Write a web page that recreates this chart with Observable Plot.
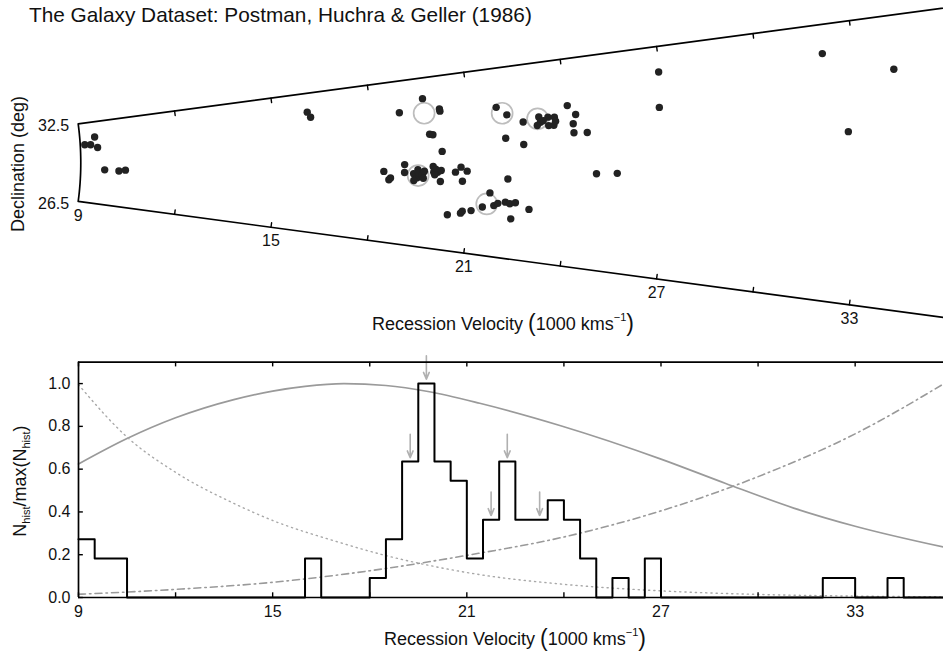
<!DOCTYPE html>
<html><head><meta charset="utf-8">
<script src="https://cdn.jsdelivr.net/npm/d3@7"></script>
<script src="https://cdn.jsdelivr.net/npm/@observablehq/plot@0.6"></script>
<style>
body{margin:0;background:#fff;font-family:"Liberation Sans",Arial,sans-serif;color:#111;}
#wrap{position:relative;width:943px;height:651px;overflow:hidden;background:#fff;}
#topPanel,#bottomPanel{position:absolute;left:0;}
#topPanel{top:0;} #bottomPanel{top:340px;}
.lab{position:absolute;white-space:nowrap;font-size:18px;line-height:1;transform:translate(-50%,-50%);}
.rot{transform:translate(-50%,-50%) rotate(-90deg);}
.p{font-size:23px;position:relative;top:1px;}
sup{font-size:11px;vertical-align:9px;line-height:0;}
sub{font-size:11px;vertical-align:-4px;line-height:0;}
#title{position:absolute;left:29px;top:3px;font-size:20.8px;white-space:nowrap;}
</style></head><body>
<div id="wrap">
<div id="topPanel"></div><div id="bottomPanel"></div>
<div id="title">The Galaxy Dataset: Postman, Huchra &amp; Geller (1986)</div>
<div class="lab" style="left:503px;top:322px">Recession Velocity <span class="p">(</span>1000 kms<sup>−1</sup><span class="p">)</span></div>
<div class="lab" style="left:515px;top:637px">Recession Velocity <span class="p">(</span>1000 kms<sup>−1</sup><span class="p">)</span></div>
<div class="lab rot" style="left:18px;top:164px">Declination (deg)</div>
<div class="lab rot" style="left:20px;top:481px">N<sub>hist</sub>/max(N<sub>hist</sub>)</div>
</div>
<script>
// ---- top panel: galaxies (velocity in 1000 km/s, declination in deg)
const velocity = [9.14,9.32,9.46,9.53,9.74,10.18,10.38,16.06,16.15,18.89,19.64,20.13,20.14,19.78,19.88,20.15,18.35,18.51,18.56,18.99,18.99,19.40,19.27,19.48,19.38,19.28,19.42,19.87,19.89,20.01,20.12,20.10,20.56,20.73,20.92,20.78,20.37,20.77,20.82,21.09,21.43,21.78,21.90,22.13,22.27,22.44,22.87,22.33,21.64,22.18,21.88,22.19,22.68,23.17,23.21,23.11,23.45,23.65,23.46,23.62,24.07,24.31,24.22,24.23,24.64,22.12,22.67,24.91,25.55,26.97,26.90,32.05,34.20,32.69,19.55,19.53,19.60,19.57,19.95,19.92,23.30,23.68];
const declination = [30.86,30.84,31.39,30.61,28.99,28.93,29.00,31.69,31.46,31.34,31.77,31.36,31.28,30.50,30.48,29.89,29.17,28.86,28.93,29.43,29.14,29.25,29.10,29.08,28.96,28.86,29.15,29.37,29.17,29.17,29.23,28.85,29.18,29.35,29.22,28.88,27.72,27.81,27.88,27.92,28.06,28.13,28.21,28.26,28.22,28.26,28.08,27.75,28.53,28.99,31.26,31.00,30.75,30.87,30.71,30.62,30.85,30.84,30.60,30.60,31.15,30.88,30.62,30.36,30.35,30.27,30.06,29.19,29.21,31.84,30.93,31.87,31.40,30.16,29.12,29.02,29.20,28.95,29.27,29.08,30.75,30.72];
const ringVelocity = [19.65,19.41,22.05,23.13,21.56];
const ringDeclination = [31.25,29.04,31.06,30.82,28.17];
const wedgeTicks = [12,15,18,21,24,27,30,33,36];
const wedgeLabels = [9,15,21,27,33];
const decLabels = [32.5,26.5];

// ---- bottom panel
const binStart = d3.range(9, 36, 0.5);
const binCount = [3,2,2,0,0,0,0,0,0,0,0,0,0,0,2,0,0,0,1,3,7,11,7,6,2,4,7,4,4,5,4,2,0,1,0,2,0,0,0,0,0,0,0,0,0,0,1,1,0,0,1,0,0,0];
const solidV = [9,10.5,12,13.8,15,16,17.2,18.5,19.8,21.4,23.9,27,29,31.1,33,35.75];
const solidY = [0.624,0.743,0.840,0.925,0.965,0.987,1.0,0.991,0.963,0.908,0.803,0.647,0.533,0.418,0.333,0.235];
const dottedV = [9,10.5,12,13.8,15,16.9,18.45,20,21.4,23.9,27,30.1,33,35.75];
const dottedY = [0.995,0.75,0.585,0.44,0.36,0.265,0.198,0.145,0.107,0.063,0.031,0.014,0.0065,0.003];
const dashV = [9,12,15,18,21,24,27,30,33,35.75];
const dashY = [0.015,0.038,0.071,0.125,0.197,0.283,0.405,0.565,0.765,1.0];
const arrowV = [19.25,19.75,21.75,22.25,23.25];
const arrowTip = [0.653,1.02,0.383,0.653,0.383];
const xTicks = [9,12,15,18,21,24,27,30,33,36];
const xLabels = [9,15,21,27,33];
const yTicks = [0,0.2,0.4,0.6,0.8,1.0];

const font = {fontFamily:"'Liberation Sans', Arial, sans-serif", fontSize:"16px", color:"#111", background:"transparent", overflow:"visible"};

// wedge projection: velocity -> radius, declination -> angle
const K = 32.42, AX = -211.5, AY = 162.2, DEC0 = 29.5, ANG = 2.543 * Math.PI / 180;
const wedge = d3.geoTransform({
  point(v, dec) {
    const r = K * v, t = (dec - DEC0) * ANG;
    this.stream.point(AX + r * Math.cos(t), AY - r * Math.sin(t));
  }
});
const HALF = 3 * 2.543;
const tickShape = {draw(ctx, l) { ctx.moveTo(0, 0); ctx.lineTo(0, -l); }};

const galaxies = velocity.map((v, i) => ({v, dec: declination[i]}));
const rings = ringVelocity.map((v, i) => ({v, dec: ringDeclination[i]}));
const wedgeFrame = {type: "MultiLineString", coordinates: [
  [[9, 32.5], [37, 32.5]],
  [[9, 26.5], [37, 26.5]],
  d3.range(26.5, 32.5001, 0.25).map(d => [9, d])
]};

const topPlot = Plot.plot({
  width: 943, height: 340, margin: 0,
  projection: wedge,
  style: font,
  marks: [
    Plot.geo(wedgeFrame, {stroke: "#000", strokeWidth: 1.7, fill: "none"}),
    Plot.vector(wedgeTicks, {x: d => d, y: () => 32.5, length: 4.5, rotate: 180 - HALF, anchor: "start", shape: tickShape, stroke: "#000", strokeWidth: 1.4}),
    Plot.vector(wedgeTicks, {x: d => d, y: () => 26.5, length: 4.5, rotate: HALF, anchor: "start", shape: tickShape, stroke: "#000", strokeWidth: 1.4}),
    Plot.dot(rings, {x: "v", y: "dec", r: 10.5, stroke: "#bdbdbd", strokeWidth: 1.7, fill: "none"}),
    Plot.dot(galaxies, {x: "v", y: "dec", r: 3.7, fill: "#222", stroke: "none"}),
    Plot.text(wedgeLabels, {x: d => d, y: () => 26.5, text: d => String(d), dy: 14, fontSize: 16, fill: "#111"}),
    Plot.text(decLabels, {x: () => 9, y: d => d, text: d => d.toFixed(1), textAnchor: "end", dx: -9, dy: 2, fontSize: 16, fill: "#111"})
  ]
});
document.getElementById("topPanel").append(topPlot);

// bottom panel
const maxCount = d3.max(binCount);
const hist = binStart.map((v, i) => ({v, h: binCount[i] / maxCount})).concat([{v: 36, h: 0}]);
const solid = solidV.map((v, i) => ({v, y: solidY[i]}));
const dotted = dottedV.map((v, i) => ({v, y: dottedY[i]}));
const dash = dashV.map((v, i) => ({v, y: dashY[i]}));
const arrows = arrowV.map((v, i) => ({v, tip: arrowTip[i]}));

const bottomPlot = Plot.plot({
  width: 943, height: 311, marginLeft: 78, marginRight: 0, marginTop: 21.7, marginBottom: 54,
  style: font,
  x: {domain: [9, 35.73], ticks: xLabels, tickSize: 0, tickPadding: 8, label: null, tickFormat: d => String(d)},
  y: {domain: [0, 1.1], ticks: yTicks, tickSize: 0, tickPadding: 8, label: null, tickFormat: d3.format(".1f")},
  marks: [
    Plot.line(solid, {x: "v", y: "y", curve: "monotone-x", stroke: "#9a9a9a", strokeWidth: 1.7}),
    Plot.line(dotted, {x: "v", y: "y", curve: "monotone-x", stroke: "#a8a8a8", strokeWidth: 1.4, strokeDasharray: "1.2,4"}),
    Plot.line(dash, {x: "v", y: "y", curve: "monotone-x", stroke: "#9a9a9a", strokeWidth: 1.6, strokeDasharray: "7,4,1.5,4"}),
    Plot.line(hist, {x: "v", y: "h", curve: "step-after", stroke: "#000", strokeWidth: 2}),
    Plot.arrow(arrows, {x: "v", y1: d => d.tip + 0.11, y2: "tip", stroke: "#b0b0b0", strokeWidth: 1.6, headLength: 7, headAngle: 45}),
    Plot.ruleY([0, 1.1], {stroke: "#000", strokeWidth: 1.7}),
    Plot.ruleX([9], {y1: 0, y2: 1.1, stroke: "#000", strokeWidth: 1.7}),
    Plot.ruleX(xTicks, {y1: 0, y2: 0.022, stroke: "#000", strokeWidth: 1.4}),
    Plot.ruleX(xTicks, {y1: 1.1, y2: 1.078, stroke: "#000", strokeWidth: 1.4}),
    Plot.ruleY(yTicks, {x1: 9, x2: 9.15, stroke: "#000", strokeWidth: 1.4})
  ]
});
document.getElementById("bottomPanel").append(bottomPlot);
</script>
</body></html>
